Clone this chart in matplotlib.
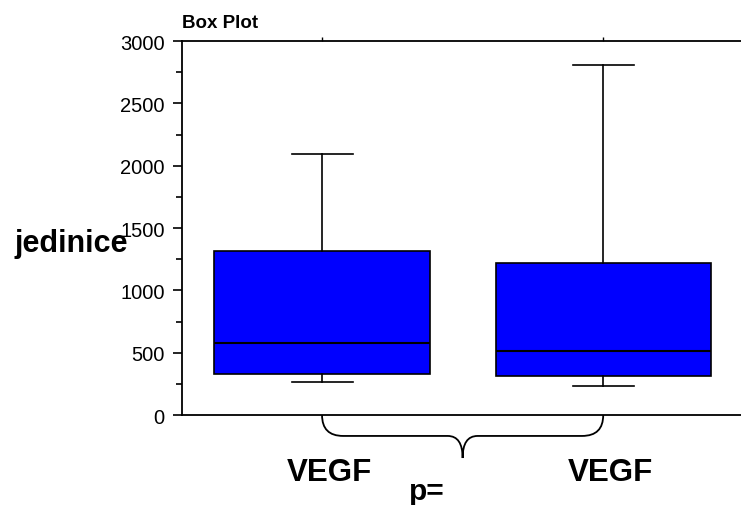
import matplotlib
matplotlib.use("Agg")
import matplotlib.pyplot as plt
from matplotlib.path import Path
from matplotlib.patches import PathPatch
import matplotlib.transforms as mtransforms

plt.rcParams['font.family'] = ['Liberation Sans', 'DejaVu Sans']

# box statistics
groups = ["VEGF", "VEGF"]
whisker_low = [265, 233]
q1 = [329, 313]
medians = [578, 516]
q3 = [1315, 1217]
whisker_high = [2095, 2810]

stats = []
for i in range(len(groups)):
    stats.append({
        "label": groups[i],
        "whislo": whisker_low[i],
        "q1": q1[i],
        "med": medians[i],
        "q3": q3[i],
        "whishi": whisker_high[i],
        "fliers": [],
    })

fig = plt.figure(figsize=(7.41, 5.06), dpi=100)
ax = fig.add_axes([182 / 741, 1 - 416 / 506, 1 - 182 / 741, (416 - 42) / 506])

positions = [1, 2]
ax.bxp(stats, positions=positions, widths=0.765, capwidths=0.217,
       patch_artist=True, showfliers=False,
       boxprops=dict(facecolor="#0000ff", edgecolor="black", linewidth=1.2),
       medianprops=dict(color="black", linewidth=1.5),
       whiskerprops=dict(color="black", linewidth=1.2),
       capprops=dict(color="black", linewidth=1.2))

ax.set_xlim(0.502, 2.49)
ax.set_ylim(0, 3000)
ax.set_yticks(range(0, 3001, 500))
ax.set_yticks(range(250, 3000, 500), minor=True)
ax.tick_params(axis="y", which="major", length=6.5, width=1.2, labelsize=14.5, pad=6)
ax.tick_params(axis="y", which="minor", length=4, width=1.2)

ax.spines["right"].set_visible(False)
for s in ["left", "top", "bottom"]:
    ax.spines[s].set_linewidth(1.3)

# category labels under the axis, ticks only on top spine
ax.set_xticks(positions)
ax.set_xticklabels(groups, fontsize=22.5, fontweight="bold")
ax.tick_params(axis="x", bottom=False, top=True, direction="out", length=3,
               width=1, pad=27)
shift = mtransforms.ScaledTranslation(7 / 100, 0, fig.dpi_scale_trans)
for lbl in ax.get_xticklabels():
    lbl.set_transform(lbl.get_transform() + shift)

# brace joining the two groups
trans = mtransforms.blended_transform_factory(ax.transData, ax.transAxes)
d = -0.056
tip = -0.115
verts = [(1.0, 0.0), (1.0, d), (1.075, d), (1.447, d),
         (1.5, d), (1.5, tip), (1.5, d), (1.553, d),
         (1.925, d), (2.0, d), (2.0, 0.0)]
codes = [Path.MOVETO, Path.CURVE3, Path.CURVE3, Path.LINETO,
         Path.CURVE3, Path.CURVE3, Path.CURVE3, Path.CURVE3,
         Path.LINETO, Path.CURVE3, Path.CURVE3]
brace = PathPatch(Path(verts, codes), transform=trans, fill=False,
                  edgecolor="black", linewidth=1.3, clip_on=False)
ax.add_patch(brace)

ax.set_title("Box Plot", loc="left", fontsize=13.5, fontweight="bold", pad=10)
fig.text(15 / 741, 1 - 252 / 506, "jedinice", fontsize=22, fontweight="bold",
         ha="left", va="baseline")
fig.text(427 / 741, 1 - 500 / 506, "p=", fontsize=21.5, fontweight="bold",
         ha="center", va="baseline")

fig.savefig("out.png", dpi=100)
